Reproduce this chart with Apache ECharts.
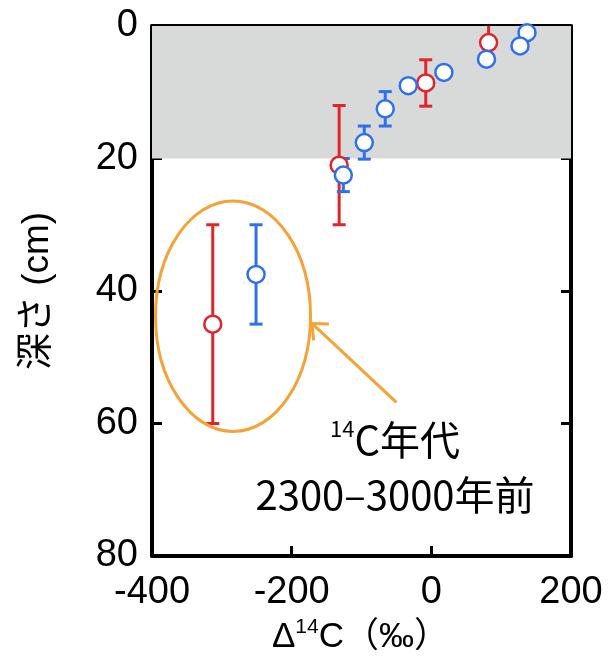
<!DOCTYPE html>
<html>
<head>
<meta charset="utf-8">
<script src="https://cdn.jsdelivr.net/npm/echarts@6/dist/echarts.min.js"></script>
<style>
  html, body { margin: 0; padding: 0; background: #fff; }
  #chart { width: 608px; height: 664px; }
</style>
</head>
<body>
<div id="chart"></div>
<script>
// Depth profile of Δ14C (‰) in two cores, each point with its ±1σ bar
const redDelta = [82, -8, -132, -313];
const redDepth = [2.5, 8.6, 21, 45];
const redErr = [2.8, 3.5, 9, 15];

const blueDelta = [137, 127, 79, 18, -33, -66, -96, -126, -251];
const blueDepth = [1.0, 3.0, 5.0, 7.0, 9.0, 12.5, 17.6, 22.5, 37.5];
const blueErr = [0, 0, 0, 0, 0, 2.6, 2.5, 2.5, 7.5];

const xTicks = [-400, -200, 0, 200];
const yTicks = [0, 20, 40, 60, 80];

// shaded surface layer (cm)
const surfaceLayer = [0, 20];

// callout around the two deepest samples
const ringCenter = [-284, 43.8];
const ringRadius = [111, 17.4];
const arrowTail = [-50, 56.8];
const arrowHead = [-171, 44.9];
const captionX = -52;
const captionDepths = [62.4, 70.8];

const LATIN = "'Liberation Sans', Arial, 'Noto Sans CJK JP', sans-serif";
const CJK = "'Noto Sans CJK JP', 'Liberation Sans', sans-serif";
const RED = '#e0242a';
const BLUE = '#2f70ec';
const ORANGE = '#f5a236';

const chart = echarts.init(document.getElementById('chart'), null, { renderer: 'canvas' });

function toTriples(xs, ys, es) {
  return xs.map((x, i) => [x, ys[i], es[i]]);
}

function errorBars(color) {
  return function (params, api) {
    const x = api.value(0), y = api.value(1), e = api.value(2);
    if (!e) return null;
    const top = api.coord([x, y - e]);
    const bot = api.coord([x, y + e]);
    const half = 6.5;
    const style = { stroke: color, lineWidth: 3, fill: null };
    return {
      type: 'group',
      children: [
        { type: 'line', shape: { x1: top[0], y1: top[1], x2: bot[0], y2: bot[1] }, style },
        { type: 'line', shape: { x1: top[0] - half, y1: top[1], x2: top[0] + half, y2: top[1] }, style },
        { type: 'line', shape: { x1: bot[0] - half, y1: bot[1], x2: bot[0] + half, y2: bot[1] }, style }
      ]
    };
  };
}

const tickStyle = { inside: true, length: 10, lineStyle: { color: '#000', width: 3 } };
const lineStyle = { show: true, onZero: false, lineStyle: { color: '#000', width: 4 } };

function xAxisDef(pos, labels) {
  return {
    type: 'value', position: pos, gridIndex: 0,
    min: xTicks[0], max: xTicks[xTicks.length - 1], interval: xTicks[1] - xTicks[0],
    axisLine: lineStyle, axisTick: tickStyle, splitLine: { show: false },
    axisLabel: {
      show: labels, showMinLabel: true, showMaxLabel: true, margin: 18,
      color: '#000', fontSize: 38, fontFamily: LATIN
    }
  };
}
function yAxisDef(pos, labels) {
  return {
    type: 'value', position: pos, gridIndex: 0, inverse: true,
    min: yTicks[0], max: yTicks[yTicks.length - 1], interval: yTicks[1] - yTicks[0],
    axisLine: lineStyle, axisTick: tickStyle, splitLine: { show: false },
    axisLabel: {
      show: labels, showMinLabel: true, showMaxLabel: true, margin: 14,
      color: '#000', fontSize: 38, fontFamily: LATIN
    }
  };
}

const xMain = xAxisDef('bottom', true);
xMain.name = '{d|Δ}{s|14}{d|C（‰）}';
xMain.nameLocation = 'middle';
xMain.nameGap = 58;
xMain.nameTextStyle = {
  padding: [0, 2, 0, 0],
  rich: {
    d: { fontSize: 35, fontFamily: LATIN, color: '#000', lineHeight: 40 },
    s: { fontSize: 21, fontFamily: LATIN, color: '#000', verticalAlign: 'top', lineHeight: 40 }
  }
};

const yMain = yAxisDef('left', true);
yMain.name = '深さ (cm)';
yMain.nameLocation = 'middle';
yMain.nameGap = 96;
yMain.nameRotate = 90;
yMain.nameTextStyle = { fontSize: 37, fontFamily: LATIN, color: '#000' };

const option = {
  animation: false,
  backgroundColor: '#fff',
  grid: { left: 152, right: 37, top: 26, bottom: 108, containLabel: false },
  xAxis: [xMain, xAxisDef('top', false)],
  yAxis: [yMain, yAxisDef('right', false)],
  series: [
    {
      // grey band marking the surface layer
      type: 'custom', z: 1, silent: true, clip: true,
      data: [[xTicks[0], surfaceLayer[0], xTicks[xTicks.length - 1], surfaceLayer[1]]],
      renderItem(params, api) {
        const a = api.coord([api.value(0), api.value(1)]);
        const b = api.coord([api.value(2), api.value(3)]);
        return {
          type: 'rect',
          shape: { x: a[0], y: a[1], width: b[0] - a[0], height: b[1] - a[1] },
          style: { fill: '#d8d9d9' }
        };
      }
    },
    {
      name: 'red-err', type: 'custom', z: 2, silent: true, clip: true,
      data: toTriples(redDelta, redDepth, redErr),
      renderItem: errorBars(RED)
    },
    {
      name: 'blue-err', type: 'custom', z: 2, silent: true, clip: true,
      data: toTriples(blueDelta, blueDepth, blueErr),
      renderItem: errorBars(BLUE)
    },
    {
      name: 'red', type: 'scatter', z: 3, symbol: 'circle', symbolSize: 17,
      data: redDelta.map((x, i) => [x, redDepth[i]]),
      itemStyle: { color: '#fff', borderColor: RED, borderWidth: 2.5, opacity: 1 }
    },
    {
      name: 'blue', type: 'scatter', z: 4, symbol: 'circle', symbolSize: 17,
      data: blueDelta.map((x, i) => [x, blueDepth[i]]),
      itemStyle: { color: '#fff', borderColor: BLUE, borderWidth: 2.5, opacity: 1 }
    },
    {
      // callout: ring, arrow and caption
      type: 'custom', z: 5, silent: true, clip: false,
      data: [[ringCenter[0], ringCenter[1]]],
      renderItem(params, api) {
        const c = api.coord(ringCenter);
        const r = api.size(ringRadius);
        const tail = api.coord(arrowTail);
        const head = api.coord(arrowHead);
        const ang = Math.atan2(tail[1] - head[1], tail[0] - head[0]);
        const arm = 17, spread = 0.72;
        const p1 = [head[0] + arm * Math.cos(ang - spread), head[1] + arm * Math.sin(ang - spread)];
        const p2 = [head[0] + arm * Math.cos(ang + spread), head[1] + arm * Math.sin(ang + spread)];
        const stroke = { stroke: ORANGE, lineWidth: 3, fill: null };
        const l1 = api.coord([captionX, captionDepths[0]]);
        const l2 = api.coord([captionX, captionDepths[1]]);
        return {
          type: 'group',
          children: [
            { type: 'ellipse', shape: { cx: c[0], cy: c[1], rx: r[0], ry: r[1] }, style: stroke },
            { type: 'line', shape: { x1: tail[0], y1: tail[1], x2: head[0], y2: head[1] }, style: stroke },
            { type: 'polyline', shape: { points: [p1, head, p2] }, style: stroke },
            {
              type: 'text', x: l1[0], y: l1[1],
              style: {
                text: '{s|14}{m|C年代}', align: 'center', verticalAlign: 'middle',
                rich: {
                  s: { fontSize: 22, fontFamily: CJK, fill: '#000', verticalAlign: 'top', lineHeight: 44 },
                  m: { fontSize: 40, fontFamily: CJK, fill: '#000', lineHeight: 44 }
                }
              }
            },
            {
              type: 'text', x: l2[0], y: l2[1],
              style: {
                text: '2300–3000年前', align: 'center', verticalAlign: 'middle',
                fontSize: 40, fontFamily: CJK, fill: '#000'
              }
            }
          ]
        };
      }
    }
  ]
};

chart.setOption(option);
</script>
</body>
</html>
